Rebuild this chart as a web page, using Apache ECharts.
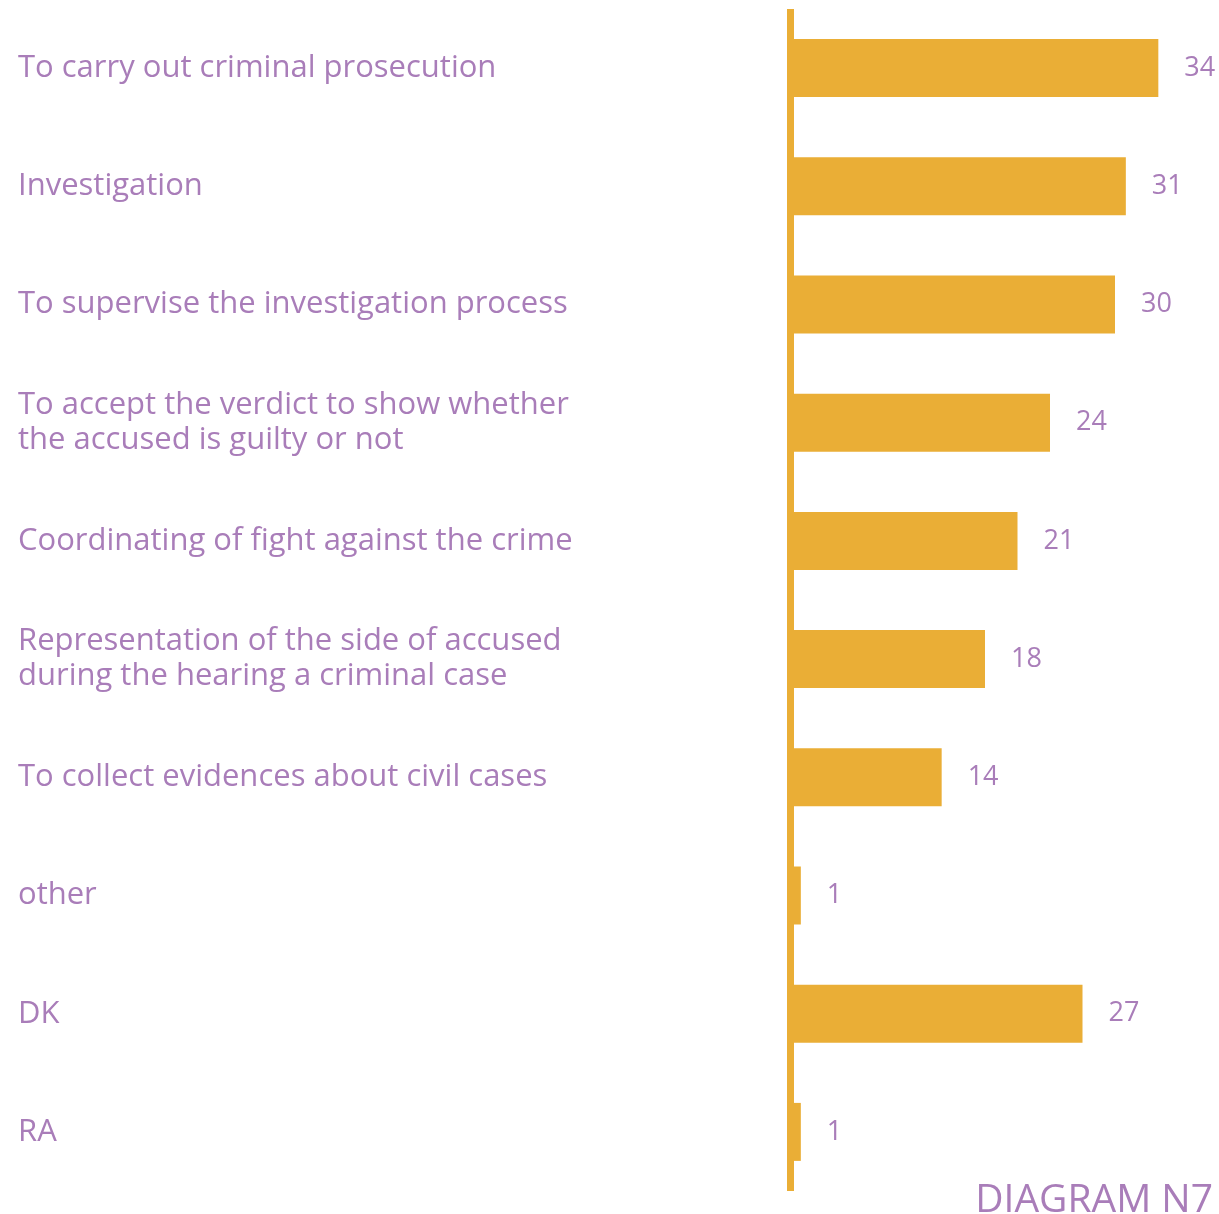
<!DOCTYPE html>
<html>
<head>
<meta charset="utf-8">
<script src="https://cdn.jsdelivr.net/npm/echarts@6/dist/echarts.min.js"></script>
<style>
  html, body { margin: 0; padding: 0; background: #fff; }
  #chart { width: 1219px; height: 1214px; }
</style>
</head>
<body>
<div id="chart"></div>
<script>
// answers, top to bottom
var categories = [
  "To carry out criminal prosecution",
  "Investigation",
  "To supervise the investigation process",
  "To accept the verdict to show whether\nthe accused is guilty or not",
  "Coordinating of fight against the crime",
  "Representation of the side of accused\nduring the hearing a criminal case",
  "To collect evidences about civil cases",
  "other",
  "DK",
  "RA"
];
var counts = [34, 31, 30, 24, 21, 18, 14, 1, 27, 1];
var chartTitle = "DIAGRAM N7";

var orange = "#eaae36";
var purple = "#a97db9";
var font = "'Open Sans', sans-serif";

var chart = echarts.init(document.getElementById("chart"));
chart.setOption({
  animation: false,
  title: {
    text: chartTitle,
    right: 1,
    top: 1176,
    textStyle: { color: purple, fontSize: 39, fontWeight: "normal", fontFamily: font }
  },
  grid: { left: 790, right: 1219 - 790 - 390, top: 9, bottom: 23 },
  xAxis: {
    type: "value",
    min: 0,
    max: 36,
    show: false
  },
  yAxis: {
    type: "category",
    inverse: true,
    data: categories,
    axisLine: { show: true, lineStyle: { color: orange, width: 7, cap: "butt" } },
    axisTick: { show: false },
    axisLabel: {
      align: "left",
      margin: 772,
      color: purple,
      fontSize: 31,
      lineHeight: 35,
      fontFamily: font
    }
  },
  series: [
    {
      type: "bar",
      data: counts,
      barWidth: 58,
      itemStyle: { color: orange },
      label: {
        show: true,
        position: "right",
        distance: 26,
        color: purple,
        fontSize: 27,
        fontFamily: font
      }
    }
  ]
});
</script>
</body>
</html>
